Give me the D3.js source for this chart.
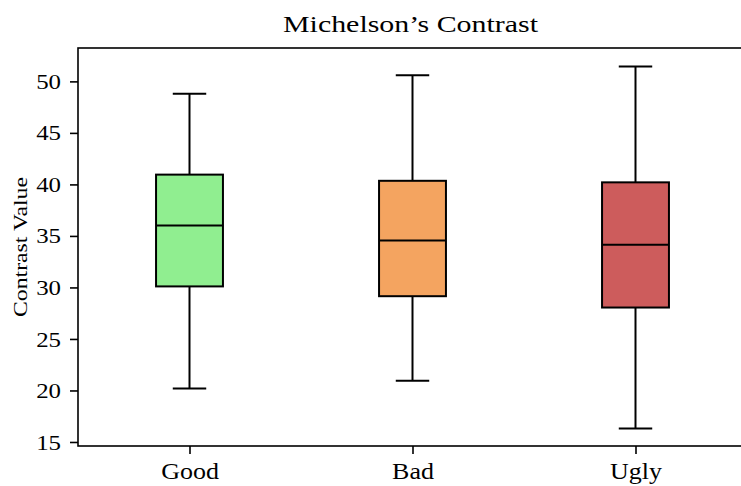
<!DOCTYPE html>
<html>
<head>
<meta charset="utf-8">
<script src="https://cdn.jsdelivr.net/npm/d3@7"></script>
<style>
  body { margin: 0; background: #fff; }
  text { font-family: "Liberation Serif", "DejaVu Serif", serif; fill: #000; }
</style>
</head>
<body>
<div id="chart"></div>
<script>
// categories and box statistics
const categories = ['Good', 'Bad', 'Ugly'];
const whiskerLow = [20.2, 20.95, 16.3];
const q1 = [30.1, 29.15, 28.05];
const median = [36.0, 34.55, 34.15];
const q3 = [40.95, 40.35, 40.2];
const whiskerHigh = [48.8, 50.6, 51.45];
const fills = ['#90ee90', '#f4a460', '#cd5c5c'];
const yTicks = [15, 20, 25, 30, 35, 40, 45, 50];

const width = 741, height = 486;
const margin = { top: 48, right: -6, bottom: 40, left: 78 };

const svg = d3.select('#chart').append('svg')
  .attr('width', width).attr('height', height);

const x = d3.scaleLinear()
  .domain([0.5, 3.5])
  .range([margin.left, width - margin.right]);

const y = d3.scaleLinear()
  .domain([14.61, 53.24])
  .range([height - margin.bottom, margin.top]);

const boxW = 0.3;

const data = categories.map((c, i) => ({
  name: c, pos: i + 1,
  lo: whiskerLow[i], q1: q1[i], med: median[i], q3: q3[i], hi: whiskerHigh[i],
  fill: fills[i]
}));

const g = svg.append('g');

// whiskers
g.selectAll('line.whisk-lo').data(data).enter().append('line')
  .attr('x1', d => x(d.pos)).attr('x2', d => x(d.pos))
  .attr('y1', d => y(d.lo)).attr('y2', d => y(d.q1))
  .attr('stroke', '#000').attr('stroke-width', 2);
g.selectAll('line.whisk-hi').data(data).enter().append('line')
  .attr('x1', d => x(d.pos)).attr('x2', d => x(d.pos))
  .attr('y1', d => y(d.q3)).attr('y2', d => y(d.hi))
  .attr('stroke', '#000').attr('stroke-width', 2);

// caps
['lo', 'hi'].forEach(k => {
  g.selectAll('line.cap-' + k).data(data).enter().append('line')
    .attr('x1', d => x(d.pos - boxW / 4)).attr('x2', d => x(d.pos + boxW / 4))
    .attr('y1', d => y(d[k])).attr('y2', d => y(d[k]))
    .attr('stroke', '#000').attr('stroke-width', 2);
});

// boxes
g.selectAll('rect').data(data).enter().append('rect')
  .attr('x', d => x(d.pos - boxW / 2))
  .attr('width', d => x(d.pos + boxW / 2) - x(d.pos - boxW / 2))
  .attr('y', d => y(d.q3))
  .attr('height', d => y(d.q1) - y(d.q3))
  .attr('fill', d => d.fill)
  .attr('stroke', '#000').attr('stroke-width', 2);

// medians
g.selectAll('line.med').data(data).enter().append('line')
  .attr('x1', d => x(d.pos - boxW / 2)).attr('x2', d => x(d.pos + boxW / 2))
  .attr('y1', d => y(d.med)).attr('y2', d => y(d.med))
  .attr('stroke', '#000').attr('stroke-width', 2);

// axes
const yAxis = d3.axisLeft(y).tickValues(yTicks).tickSize(8).tickPadding(9);
const xAxis = d3.axisBottom(x).tickValues([1, 2, 3])
  .tickFormat((d, i) => categories[i]).tickSize(8).tickPadding(9);

const ya = svg.append('g')
  .attr('transform', `translate(${margin.left},0)`)
  .call(yAxis);
const xa = svg.append('g')
  .attr('transform', `translate(0,${height - margin.bottom})`)
  .call(xAxis);

[ya, xa].forEach((a, j) => {
  a.select('.domain').remove();
  a.selectAll('line').attr('stroke', '#000').attr('stroke-width', 1.6);
  a.selectAll('text').style('font-size', j === 0 ? '22px' : '23px')
    .style('font-family', '"Liberation Serif", "DejaVu Serif", serif');
  // widen a bit, computer modern runs wider than Times
  a.selectAll('text').each(function () {
    const w = this.getComputedTextLength();
    d3.select(this).attr('textLength', w * 1.13).attr('lengthAdjust', 'spacingAndGlyphs');
  });
});

// spines
svg.append('rect')
  .attr('x', margin.left).attr('y', margin.top)
  .attr('width', width - margin.right - margin.left)
  .attr('height', height - margin.bottom - margin.top)
  .attr('fill', 'none').attr('stroke', '#000').attr('stroke-width', 1.6);

// title and label
svg.append('text')
  .attr('x', 410.5).attr('y', 32)
  .attr('text-anchor', 'middle')
  .attr('textLength', 255).attr('lengthAdjust', 'spacingAndGlyphs')
  .style('font-size', '24px')
  .text('Michelson’s Contrast');

svg.append('text')
  .attr('transform', `translate(27,${(margin.top + height - margin.bottom) / 2}) rotate(-90)`)
  .attr('text-anchor', 'middle')
  .attr('textLength', 140).attr('lengthAdjust', 'spacingAndGlyphs')
  .style('font-size', '18px')
  .text('Contrast Value');
</script>
</body>
</html>
